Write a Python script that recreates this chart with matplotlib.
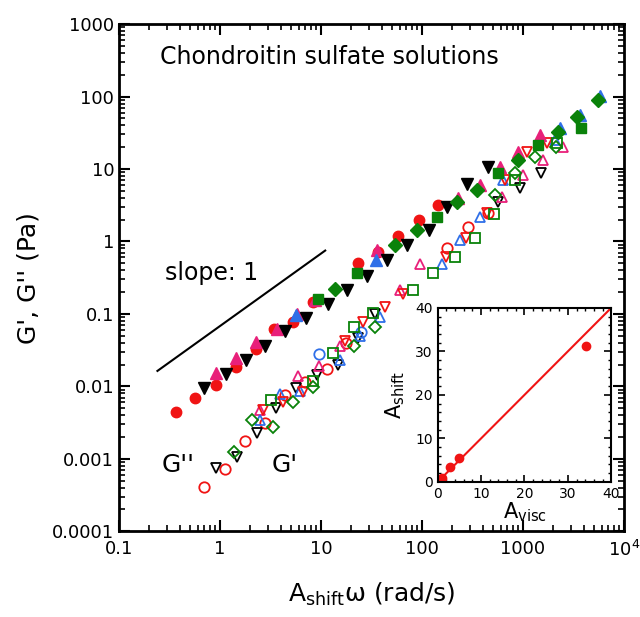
#! /usr/bin/env python3
# master curve of G', G'' for chondroitin sulfate solutions, with A_shift vs A_visc inset
import matplotlib
matplotlib.use("Agg")
import matplotlib.pyplot as plt
from matplotlib.ticker import FixedLocator, FixedFormatter, LogLocator, NullFormatter, MultipleLocator

plt.rcParams['font.family'] = ['DejaVu Sans']
plt.rcParams['mathtext.default'] = 'regular'

RED = '#f01414'
PINK = '#e8207a'
BLUE = '#2f6fe8'
GREEN = '#0a820a'
BLACK = 'black'

# ---- G'' (filled symbols) ----
red_c_x = [0.364, 0.57, 0.91, 1.44, 2.27, 3.42, 5.28, 8.28, 23.1, 36.9, 57.4, 93.3, 145]
red_c_y = [0.0044, 0.0070, 0.0103, 0.0185, 0.0325, 0.061, 0.0766, 0.146, 0.505, 0.716, 1.18, 1.96, 3.16]

pink_t_x = [0.905, 1.44, 2.25, 3.64, 5.74, 8.73, 35.6, 229, 375, 592, 898, 1470]
pink_t_y = [0.0153, 0.0246, 0.041, 0.061, 0.101, 0.154, 0.755, 3.92, 5.97, 10.7, 17.2, 29.3]

black_v_x = [0.695, 1.14, 1.80, 2.79, 4.40, 7.06, 11.8, 18.2, 28.3, 44.7, 70.6, 118, 178, 281, 454]
black_v_y = [0.0096, 0.0147, 0.0234, 0.036, 0.0575, 0.0877, 0.139, 0.212, 0.333, 0.562, 0.887, 1.46, 3.0, 6.3, 10.7]

blue_t_x = [5.6, 35.1, 2323, 3664, 5780]
blue_t_y = [0.095, 0.55, 36.2, 55.3, 101]

green_s_x = [9.3, 22.6, 140, 569, 1416, 3725]
green_s_y = [0.159, 0.367, 2.18, 8.67, 21.3, 36.2]

green_d_x = [13.8, 54.1, 88.7, 221, 348, 898, 2237, 3404, 5570]
green_d_y = [0.219, 0.887, 1.43, 3.52, 5.09, 13.2, 32.5, 52.5, 89.1]

# ---- G' (open symbols) ----
red_oc_x = [0.70, 1.13, 1.78, 2.81, 4.44, 7.0, 11.4, 17.7, 178, 287, 454]
red_oc_y = [0.000403, 0.000714, 0.00176, 0.00311, 0.0075, 0.0115, 0.0173, 0.0396, 0.824, 1.58, 2.48]

black_ov_x = [0.906, 1.46, 2.31, 3.58, 5.65, 9.06, 14.8, 23.4, 34.3, 569, 933, 1496]
black_ov_y = [0.000753, 0.00105, 0.00226, 0.00501, 0.0095, 0.0145, 0.0195, 0.0465, 0.101, 3.52, 5.38, 8.67]

green_od_x = [1.36, 2.09, 3.37, 5.32, 8.40, 21.2, 34.3, 528, 834, 1316, 2110]
green_od_y = [0.00124, 0.00339, 0.00275, 0.00607, 0.00977, 0.0356, 0.066, 4.35, 8.67, 14.7, 20.2]

blue_ot_x = [2.49, 3.93, 6.19, 15.4, 24.3, 38.4, 157, 238, 375, 638, 2075]
blue_ot_y = [0.00339, 0.00792, 0.00853, 0.0229, 0.0491, 0.0906, 0.495, 1.04, 2.18, 7.0, 25.0]

pink_ot_x = [2.49, 5.96, 9.55, 15.4, 60.5, 95.5, 614, 1007, 1567, 2506]
pink_ot_y = [0.00467, 0.0137, 0.0189, 0.0356, 0.215, 0.495, 4.12, 8.2, 13.2, 20.2]

red_ov_x = [2.65, 4.18, 6.59, 17.3, 26.2, 43, 65.3, 173, 273, 437, 664, 1089, 1718]
red_ov_y = [0.00467, 0.00607, 0.00834, 0.0419, 0.0773, 0.124, 0.19, 0.611, 1.10, 2.43, 7.0, 17.2, 22.5]

green_os_x = [3.2, 8.26, 13.1, 21.2, 33, 81.5, 128, 212, 335, 517, 834, 2153]
green_os_y = [0.00641, 0.0118, 0.0288, 0.066, 0.103, 0.212, 0.364, 0.611, 1.10, 2.36, 7.0, 22.9]

blue_oc_x = [9.62, 24.7]
blue_oc_y = [0.0283, 0.0562]

# slope-1 guide line
slope_x = [0.24, 11.0]
slope_k = 0.068

# inset data
visc = [0.5, 1.0, 2.9, 4.9, 34.2]
shift = [0.4, 0.9, 3.4, 5.6, 31.2]
diag = [0, 40]

xticks = [0.1, 1, 10, 100, 1000, 1e4]
xlabels = ['0.1', '1', '10', '100', '1000', '$10^4$']
yticks = [1e-4, 1e-3, 1e-2, 0.1, 1, 10, 100, 1000]
ylabels = ['0.0001', '0.001', '0.01', '0.1', '1', '10', '100', '1000']

fig = plt.figure(figsize=(6.4, 6.17), dpi=100)
ax = fig.add_axes([0.186, 0.139, 0.789, 0.822])

ms = 7.5
mew = 1.3
# open G'
ax.plot(red_oc_x, red_oc_y, 'o', ms=ms, mfc='none', mec=RED, mew=mew, ls='none')
ax.plot(black_ov_x, black_ov_y, 'v', ms=ms, mfc='none', mec=BLACK, mew=mew, ls='none')
ax.plot(blue_oc_x, blue_oc_y, 'o', ms=ms, mfc='none', mec=BLUE, mew=mew, ls='none')
ax.plot(pink_ot_x, pink_ot_y, '^', ms=ms, mfc='none', mec=PINK, mew=mew, ls='none')
ax.plot(blue_ot_x, blue_ot_y, '^', ms=ms, mfc='none', mec=BLUE, mew=mew, ls='none')
ax.plot(red_ov_x, red_ov_y, 'v', ms=ms, mfc='none', mec=RED, mew=mew, ls='none')
ax.plot(green_os_x, green_os_y, 's', ms=ms - 0.5, mfc='none', mec=GREEN, mew=mew, ls='none')
ax.plot(green_od_x, green_od_y, 'D', ms=ms - 1, mfc='none', mec=GREEN, mew=mew, ls='none')
# filled G''
ax.plot(red_c_x, red_c_y, 'o', ms=ms, color=RED, ls='none')
ax.plot(pink_t_x, pink_t_y, '^', ms=ms + 1, color=PINK, ls='none')
ax.plot(black_v_x, black_v_y, 'v', ms=ms + 1, color=BLACK, ls='none')
ax.plot(blue_t_x, blue_t_y, '^', ms=ms + 1, color=BLUE, ls='none')
ax.plot(green_s_x, green_s_y, 's', ms=ms, color=GREEN, ls='none')
ax.plot(green_d_x, green_d_y, 'D', ms=ms, color=GREEN, ls='none')

ax.plot(slope_x, [slope_k * v for v in slope_x], color='black', lw=1.5)

ax.set_xscale('log')
ax.set_yscale('log')
ax.set_xlim(0.1, 1e4)
ax.set_ylim(1e-4, 1000)
ax.xaxis.set_major_locator(FixedLocator(xticks))
ax.xaxis.set_major_formatter(FixedFormatter(xlabels))
ax.yaxis.set_major_locator(FixedLocator(yticks))
ax.yaxis.set_major_formatter(FixedFormatter(ylabels))
ax.xaxis.set_minor_locator(LogLocator(base=10, subs=range(2, 10), numticks=20))
ax.yaxis.set_minor_locator(LogLocator(base=10, subs=range(2, 10), numticks=20))
ax.xaxis.set_minor_formatter(NullFormatter())
ax.yaxis.set_minor_formatter(NullFormatter())
ax.tick_params(which='both', direction='in', top=True, right=True, labelsize=13)
ax.tick_params(which='major', length=8, width=1.5)
ax.tick_params(which='minor', length=4, width=1.2)
ax.tick_params(axis='x', pad=6)
for s in ax.spines.values():
    s.set_linewidth(2)

ax.set_xlabel('A$_{shift}$ω (rad/s)', fontsize=18, labelpad=15)
ax.set_ylabel("G', G'' (Pa)", fontsize=18, labelpad=8)

ax.text(0.081, 0.935, 'Chondroitin sulfate solutions', transform=ax.transAxes,
        fontsize=17, ha='left', va='center')
ax.text(0.091, 0.509, 'slope: 1', transform=ax.transAxes, fontsize=17, ha='left', va='center')
ax.text(0.117, 0.130, "G''", transform=ax.transAxes, fontsize=18, ha='center', va='center')
ax.text(0.329, 0.130, "G'", transform=ax.transAxes, fontsize=18, ha='center', va='center')

# inset
ins = fig.add_axes([0.684, 0.219, 0.271, 0.282])
ins.set_facecolor('white')
ins.plot(diag, diag, color=RED, lw=1.5)
ins.plot(visc, shift, 'o', color=RED, ms=6, ls='none')
ins.set_xlim(0, 40)
ins.set_ylim(0, 40)
ins.xaxis.set_major_locator(MultipleLocator(10))
ins.yaxis.set_major_locator(MultipleLocator(10))
ins.xaxis.set_minor_locator(MultipleLocator(2))
ins.yaxis.set_minor_locator(MultipleLocator(2))
ins.tick_params(which='both', direction='in', top=True, right=True, labelsize=10)
ins.tick_params(which='major', length=5, width=1.2)
ins.tick_params(which='minor', length=2.5, width=1)
for s in ins.spines.values():
    s.set_linewidth(1.5)
ins.set_xlabel('A$_{visc}$', fontsize=15, labelpad=0)
ins.set_ylabel('A$_{shift}$', fontsize=15, labelpad=6)

fig.savefig('out.png', dpi=100)
